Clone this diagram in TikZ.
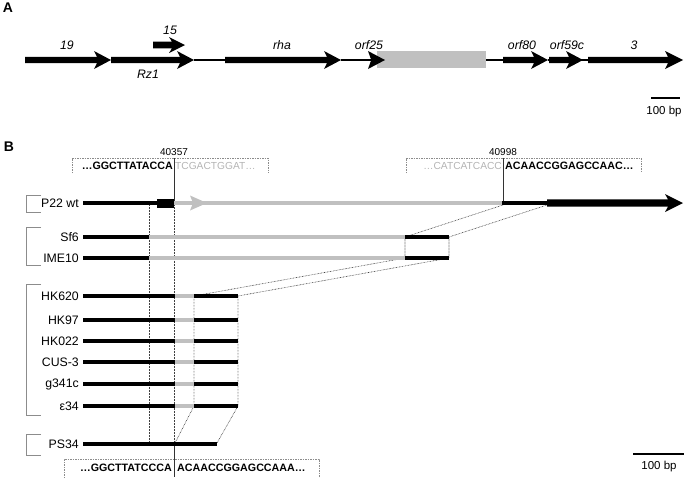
\documentclass[tikz,border=0pt]{standalone}
\usepackage{fontspec}
\setmainfont{Liberation Sans}
\definecolor{lgray}{HTML}{C0C0C0}
\definecolor{tgray}{HTML}{B4B4B4}
\definecolor{bgray}{HTML}{8C8C8C}
\newcommand{\garrow}[6]{% x1, xh, xt, y, h, H
  \fill (#1,#4-#5) -- (#2,#4-#5) -- (#2-3,#4-#6) -- (#3,#4) -- (#2-3,#4+#6) -- (#2,#4+#5) -- (#1,#4+#5) -- cycle;}
\begin{document}
\begin{tikzpicture}[x=1pt,y=-1pt,
  lab/.style={inner sep=0pt,font=\fontsize{12.3}{14}\selectfont},
  glab/.style={lab,font=\fontsize{12.3}{14}\selectfont\itshape},
  rowlab/.style={lab,anchor=east},
  seq/.style={inner sep=0pt,font=\fontsize{10.7}{12}\selectfont\bfseries},
  gseq/.style={inner sep=0pt,tgray,font=\fontsize{10.2}{12}\selectfont},
  poslab/.style={inner sep=0pt,font=\fontsize{10}{11}\selectfont},
  blk/.style={line width=4pt,black},
  gry/.style={line width=3.8pt,lgray},
  dot/.style={line width=0.6pt,black!75,dash pattern=on 0.7pt off 0.8pt},
  dbox/.style={line width=0.5pt,bgray,dash pattern=on 1.5pt off 1pt},
  brk/.style={line width=0.9pt,bgray},
  vline/.style={line width=0.7pt,black!80}]
\useasboundingbox (0,0) rectangle (688,477);
% ---------------- Panel A ----------------
\node[lab,font=\fontsize{14}{16}\selectfont\bfseries] (A) at (8,8) {A};
\draw[line width=1.2pt] (194,60) -- (225,60);
\draw[line width=1.2pt] (341,60) -- (503,60);
\draw[line width=1.2pt] (548,60) -- (588,60);
\garrow{25}{97}{111}{60}{3.2}{9}
\garrow{111}{180}{194}{60}{3.2}{9}
\garrow{153}{172}{185}{45}{3.3}{8}
\garrow{225}{327}{341}{60}{3.2}{9}
\fill[lgray] (377,51) rectangle (486,68);
\garrow{371}{371}{385}{60}{0.6}{9}
\garrow{503}{534}{548}{60}{3.2}{9}
\garrow{549}{569}{583}{60}{3.2}{9}
\garrow{588}{668}{683}{60}{3.2}{9}
\node[glab] (g19) at (67,45) {19};
\node[glab] (g15) at (170,30) {15};
\node[glab] (gRz) at (148,74) {Rz1};
\node[glab] (grha) at (282,45) {rha};
\node[glab] (g25) at (369,45) {orf25};
\node[glab] (g80) at (522,45) {orf80};
\node[glab] (g59) at (567,45) {orf59c};
\node[glab] (g3) at (634,45) {3};
\draw[line width=2pt] (651,98) -- (680,98);
\node[lab,font=\fontsize{11.5}{13}\selectfont] (sbA) at (664,112) {100 bp};
% ---------------- Panel B ----------------
\node[lab,font=\fontsize{14}{16}\selectfont\bfseries] (B) at (9,147) {B};
% sequence boxes
\draw[dbox] (72,173) -- (72,158) -- (268,158) -- (268,173);
\draw[dbox] (406,173) -- (406,158) -- (641,158) -- (641,173);
\draw[dbox] (64,478) -- (64,459) -- (319,459) -- (319,478);
\node[seq,anchor=east] (s1a) at (173,166) {…GGCTTATACCA};
\node[gseq,anchor=west] (s1b) at (175,166) {TCGACTGGAT…};
\node[gseq,anchor=east] (s2a) at (502,166) {…CATCATCACC};
\node[seq,anchor=west] (s2b) at (505,166) {ACAACCGGAGCCAAC…};
\node[seq,anchor=east] (s3a) at (172,468) {…GGCTTATCCCA};
\node[seq,anchor=west] (s3b) at (177,468) {ACAACCGGAGCCAAA…};
\node[poslab] (p1) at (174,152) {40357};
\node[poslab] (p2) at (503,152) {40998};
\draw[vline] (174,158) -- (174,203);
\draw[vline] (503,158) -- (503,203);
\draw[vline] (174,444) -- (174,477);
% dotted guides
\draw[dot] (149,205) -- (149,443);
\draw[dot] (174,205) -- (174,443);
\draw[dot] (194,296) -- (194,406) -- (175,443);
\draw[dot] (238,296) -- (238,406) -- (217,443);
\draw[dot] (503,205) -- (405,237) -- (405,258) -- (194,296);
\draw[dot] (547,205) -- (449,237) -- (449,258) -- (238,296);
% brackets
\draw[brk] (41,195) -- (26,195) -- (26,212) -- (41,212);
\draw[brk] (41,227) -- (26,227) -- (26,265) -- (41,265);
\draw[brk] (41,284) -- (26,284) -- (26,415) -- (41,415);
\draw[brk] (41,434) -- (26,434) -- (26,455) -- (41,455);
% P22 wt
\node[rowlab] (r0) at (79,203) {P22 wt};
\draw[gry] (174,203) -- (503,203);
\fill[lgray] (190,195.5) -- (207,203) -- (190,210.5) -- (193,203) -- cycle;
\draw[blk] (83,203) -- (158,203);
\fill (157,198.5) rectangle (174,207.5);
\draw[blk] (502,203) -- (548,203);
\garrow{547}{668}{683}{203}{3.6}{9}
% Sf6 / IME10
\node[rowlab] (r1) at (79,237) {Sf6};
\node[rowlab] (r2) at (79,258) {IME10};
\foreach \y in {237,258}{
  \draw[gry] (149,\y) -- (405,\y);
  \draw[blk] (83,\y) -- (149,\y);
  \draw[blk] (405,\y) -- (449,\y);
}
% HK group
\node[rowlab] (r3) at (79,296) {HK620};
\node[rowlab] (r4) at (79,320) {HK97};
\node[rowlab] (r5) at (79,341) {HK022};
\node[rowlab] (r6) at (79,362) {CUS-3};
\node[rowlab] (r7) at (79,384) {g341c};
\node[rowlab] (r8) at (79,406) {ε34};
\foreach \y in {296,320,341,362,384,406}{
  \draw[gry] (175,\y) -- (194,\y);
  \draw[blk] (83,\y) -- (175,\y);
  \draw[blk] (194,\y) -- (238,\y);
}
% PS34
\node[rowlab] (r9) at (79,444) {PS34};
\draw[blk] (83,444) -- (217,444);
% scale bar B
\draw[line width=2pt] (633,454) -- (684,454);
\node[lab,font=\fontsize{11.5}{13}\selectfont] (sbB) at (659,467) {100 bp};
\end{tikzpicture}
\end{document}
